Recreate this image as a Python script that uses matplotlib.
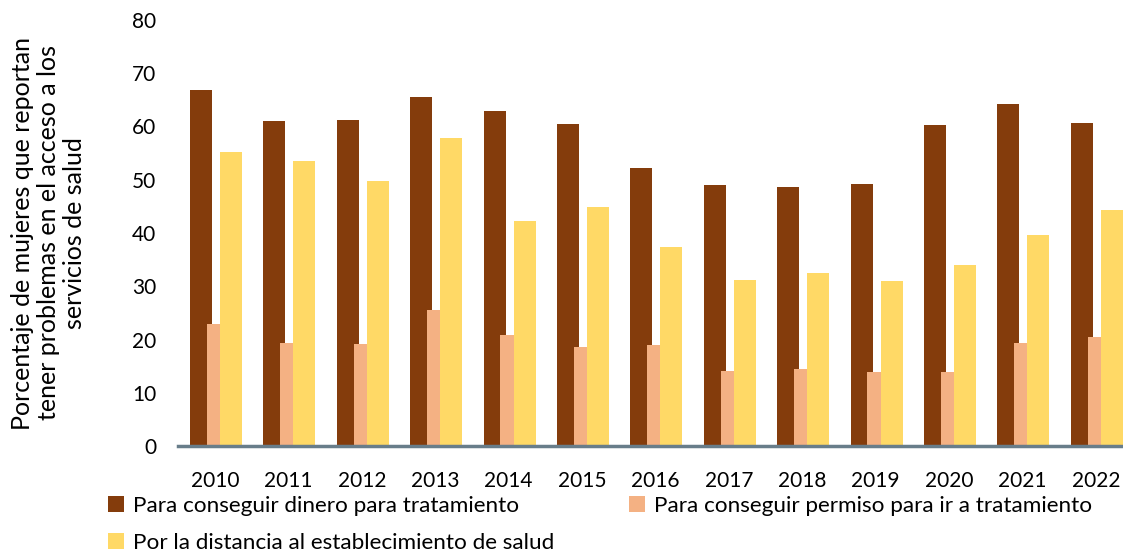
import numpy as np
import matplotlib.pyplot as plt

years = ['2010', '2011', '2012', '2013', '2014', '2015', '2016',
         '2017', '2018', '2019', '2020', '2021', '2022']
dinero = [66.9, 61.0, 61.3, 65.5, 63.0, 60.5, 52.3, 49.1, 48.7, 49.2, 60.2, 64.2, 60.7]
permiso = [22.9, 19.3, 19.1, 25.5, 20.8, 18.6, 18.9, 14.1, 14.5, 13.9, 13.9, 19.3, 20.5]
distancia = [55.3, 53.6, 49.8, 57.8, 42.2, 44.8, 37.3, 31.2, 32.4, 30.9, 33.9, 39.6, 44.3]

labels = ['Para conseguir dinero para tratamiento',
          'Para conseguir permiso para ir a tratamiento',
          'Por la distancia al establecimiento de salud']
colors = ['#843C0C', '#F4B183', '#FFD966']

plt.rcParams['font.family'] = ['Lato', 'DejaVu Sans']

fig = plt.figure(figsize=(11.23, 5.52), dpi=100)
ax = fig.add_axes([178.3 / 1123, 106 / 552, 954.2 / 1123, 426 / 552])

x = np.arange(len(years))
w = 0.30
b1 = ax.bar(x - 0.19, dinero, w, color=colors[0], zorder=2)
b2 = ax.bar(x + 0.037, permiso, w, color=colors[1], zorder=3)
b3 = ax.bar(x + 0.218, distancia, w, color=colors[2], zorder=4)

ax.set_xlim(-0.5, len(years) - 0.5)
ax.set_ylim(0, 80)
ax.set_yticks(range(0, 81, 10))
ax.set_xticks(x)
ax.set_xticklabels(years)
ax.tick_params(axis='both', length=0, labelsize=15, colors='black')
ax.tick_params(axis='y', pad=16)
ax.tick_params(axis='x', pad=18)

for s in ['top', 'right', 'left']:
    ax.spines[s].set_visible(False)
ax.spines['bottom'].set_color('#687D8A')
ax.spines['bottom'].set_linewidth(2.5)
ax.spines['bottom'].set_zorder(5)

ax.set_ylabel('Porcentaje de mujeres que reportan\ntener problemas en el acceso a los\nservicios de salud',
              fontsize=18, labelpad=33, linespacing=1.15)

fig.legend([b1, b3, b2], [labels[0], labels[2], labels[1]], ncol=2,
           loc='upper left', bbox_to_anchor=(108 / 1123, 1 - 496 / 552),
           frameon=False, fontsize=16.2, handlelength=0.7, handleheight=0.7,
           handletextpad=0.4, columnspacing=3.35, labelspacing=0.75,
           borderaxespad=0, borderpad=0)

fig.savefig('out.png', dpi=100)
